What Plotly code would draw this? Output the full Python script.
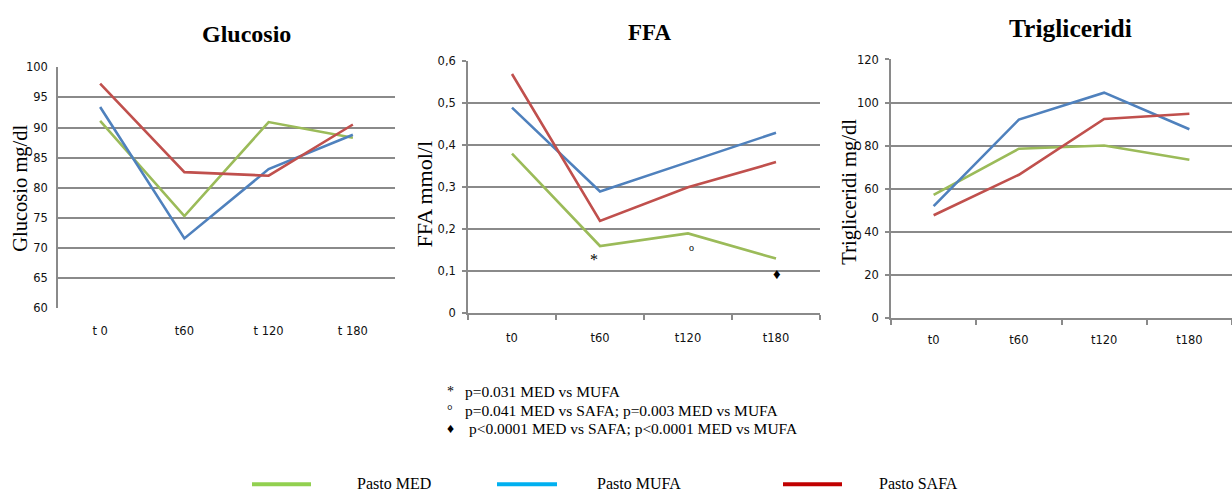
import plotly.graph_objects as go

# Time points per panel (tick labels as printed on each chart)
gluc_ticks = ["t 0", "t60", "t 120", "t 180"]
ffa_ticks = ["t0", "t60", "t120", "t180"]
trig_ticks = ["t0", "t60", "t120", "t180"]

# Glucosio (mg/dl)
gluc_med = [91.1, 75.3, 90.9, 88.3]
gluc_mufa = [93.4, 71.6, 83.1, 88.8]
gluc_safa = [97.3, 82.6, 82.0, 90.5]

# FFA (mmol/l)
ffa_med = [0.38, 0.16, 0.19, 0.13]
ffa_mufa = [0.49, 0.29, 0.36, 0.43]
ffa_safa = [0.57, 0.22, 0.30, 0.36]

# Trigliceridi (mg/dl)
trig_med = [57.2, 78.6, 80.1, 73.5]
trig_mufa = [51.9, 92.1, 104.6, 87.6]
trig_safa = [47.7, 66.5, 92.4, 94.8]

series_names = ["Pasto MED", "Pasto MUFA", "Pasto SAFA"]
line_colors = ["#9BBB59", "#4F81BD", "#C0504D"]
legend_colors = ["#92D050", "#00B0F0", "#C00000"]

W, H = 1232, 498
GRID = "#8A8A8A"
SERIF = "Liberation Serif, Times New Roman, serif"
SANS = "DejaVu Sans, Verdana, sans-serif"


def px_x(v):
    return v / W


def px_y(v):
    return 1 - v / H


fig = go.Figure()

panels = [
    (gluc_ticks, [gluc_med, gluc_mufa, gluc_safa], "x", "y"),
    (ffa_ticks, [ffa_med, ffa_mufa, ffa_safa], "x2", "y2"),
    (trig_ticks, [trig_med, trig_mufa, trig_safa], "x3", "y3"),
]
for ticks, data, xa, ya in panels:
    for name, vals, col in zip(series_names, data, line_colors):
        fig.add_trace(go.Scatter(
            x=ticks, y=vals, mode="lines", name=name, showlegend=False,
            line=dict(color=col, width=2.6), xaxis=xa, yaxis=ya,
            hoverinfo="skip",
        ))

tickfont = dict(family=SANS, size=11.5, color="#111111")

common_x = dict(type="category", range=[-0.5, 3.5], showgrid=False,
                zeroline=False, tickfont=tickfont, fixedrange=True)
common_y = dict(showgrid=True, gridcolor=GRID, gridwidth=1.6, zeroline=False,
                showline=True, linecolor=GRID, linewidth=1.6,
                tickfont=tickfont, fixedrange=True)

fig.update_layout(
    width=W, height=H, margin=dict(l=0, r=0, t=0, b=0),
    paper_bgcolor="white", plot_bgcolor="white", showlegend=False,
    # Glucosio
    xaxis=dict(common_x, domain=[px_x(58), px_x(395)], anchor="y",
               showline=False, ticks="", ticklabelstandoff=14),
    yaxis=dict(common_y, domain=[px_y(310), px_y(62)], anchor="x",
               range=[60, 100], dtick=5, ticks="", ticklabelstandoff=6),
    # FFA
    xaxis2=dict(common_x, domain=[px_x(468), px_x(820)], anchor="y2",
                showline=True, linecolor=GRID, linewidth=1.6,
                ticks="outside", tickson="boundaries", ticklen=5,
                tickcolor=GRID, tickwidth=1.6, ticklabelstandoff=13),
    yaxis2=dict(common_y, domain=[px_y(315), px_y(56)], anchor="x2",
                range=[0, 0.6], ticks="outside", ticklen=4,
                tickcolor=GRID, tickwidth=1.6,
                tickvals=[0, 0.1, 0.2, 0.3, 0.4, 0.5, 0.6],
                ticktext=["0", "0,1", "0,2", "0,3", "0,4", "0,5", "0,6"],
                ticklabelstandoff=4),
    # Trigliceridi
    xaxis3=dict(common_x, domain=[px_x(891), 1.0], anchor="y3",
                showline=True, linecolor=GRID, linewidth=1.6,
                ticks="outside", tickson="boundaries", ticklen=5,
                tickcolor=GRID, tickwidth=1.6, ticklabelstandoff=10),
    yaxis3=dict(common_y, domain=[px_y(320), px_y(54)], anchor="x3",
                range=[0, 120], dtick=20, ticks="outside", ticklen=4,
                tickcolor=GRID, tickwidth=1.6, ticklabelstandoff=4),
)

ann = []

# Panel titles
for text, x, y, size in [("Glucosio", 246, 28, 24), ("FFA", 649, 26, 23),
                         ("Trigliceridi", 1070, 22, 25.5)]:
    ann.append(dict(text=f"<b>{text}</b>", x=px_x(x), y=px_y(y), xref="paper",
                    yref="paper", showarrow=False, xanchor="center",
                    yanchor="middle", font=dict(family=SERIF, size=size,
                                                color="#000000")))

# Vertical axis titles
for text, x, y, size in [("Glucosio mg/dl", 21, 187, 20.5),
                         ("FFA mmol/l", 425, 193, 22),
                         ("Trigliceridi mg/dl", 850, 190, 20.5)]:
    ann.append(dict(text=text, x=px_x(x), y=px_y(y), xref="paper",
                    yref="paper", showarrow=False, textangle=-90,
                    xanchor="center", yanchor="middle",
                    font=dict(family=SERIF, size=size, color="#000000")))

# Significance marks on the FFA panel
for sym, xcat, yval, size, dx in [("*", "t60", 0.128, 16, -6),
                                  ("o", "t120", 0.157, 10, 3),
                                  ("♦", "t180", 0.093, 15, 1)]:
    ann.append(dict(text=sym, x=xcat, y=yval, xref="x2", yref="y2",
                    showarrow=False, xanchor="center", yanchor="middle",
                    xshift=dx,
                    font=dict(family=SERIF, size=size, color="#000000")))

# Footnotes
notes = [("*", "p=0.031 MED vs MUFA", 396, 463),
         ("°", "p=0.041 MED vs SAFA; p=0.003 MED vs MUFA", 415, 463),
         ("♦", "p<0.0001 MED vs SAFA; p<0.0001 MED vs MUFA", 434, 467)]
for sym, text, y, tx in notes:
    ann.append(dict(text=sym, x=px_x(450), y=px_y(y), xref="paper",
                    yref="paper", showarrow=False, xanchor="center",
                    yanchor="middle",
                    font=dict(family=SERIF, size=14, color="#000000")))
    ann.append(dict(text=text, x=px_x(tx), y=px_y(y), xref="paper",
                    yref="paper", showarrow=False, xanchor="left",
                    yanchor="middle",
                    font=dict(family=SERIF, size=15.5, color="#000000")))

# Legend row
shapes = []
legend_layout = [(252, 311, 355), (497, 557, 595), (783, 842, 877)]
for (x0, x1, tx), name, col in zip(legend_layout, series_names, legend_colors):
    shapes.append(dict(type="line", xref="paper", yref="paper",
                       x0=px_x(x0), x1=px_x(x1), y0=px_y(491), y1=px_y(491),
                       line=dict(color=col, width=4)))
    ann.append(dict(text=name, x=px_x(tx), y=px_y(490), xref="paper",
                    yref="paper", showarrow=False, xanchor="left",
                    yanchor="middle",
                    font=dict(family=SERIF, size=16, color="#000000")))

fig.update_layout(annotations=ann, shapes=shapes)

fig.write_html("out.html")
